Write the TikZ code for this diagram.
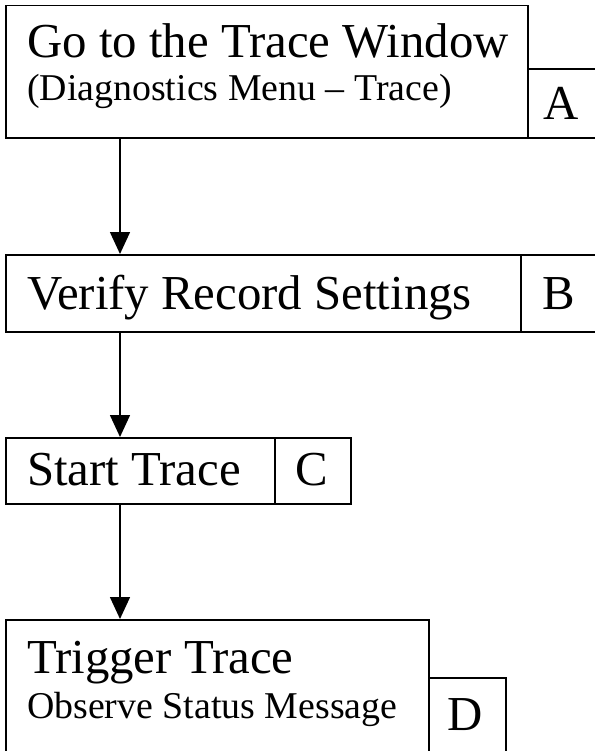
\documentclass[tikz,border=0pt]{standalone}
\usepackage{fontspec}
\setmainfont{Liberation Serif}
\usetikzlibrary{arrows.meta}

\begin{document}
\begin{tikzpicture}[x=1bp,y=-1bp]
\tikzstyle{every node}+=[inner sep=0pt]
\tikzstyle{box}=[draw,black,line width=1.5bp,rectangle,anchor=north west]
\tikzstyle{big}=[font=\fontsize{49}{54}\selectfont,anchor=base west]
\tikzstyle{small}=[font=\fontsize{38}{42}\selectfont,anchor=base west]
\tikzstyle{tag}=[font=\fontsize{49}{54}\selectfont,anchor=base]
\tikzstyle{flow}=[black,line width=1.5bp,-{Triangle[length=22bp,width=20bp]}]
\useasboundingbox (0,0) rectangle (595,751);
\node [box,minimum width=522bp,minimum height=132bp] (stepA) at (5,5) {};
\node [box,minimum width=80bp,minimum height=69bp] (tagA) at (527,68) {};
\node [big] (goText) at (27,58) {Go to the Trace Window};
\node [small] (menuText) at (27,100) {(Diagnostics Menu – Trace)};
\node [tag] (tagAText) at (561,119) {A};
\node [box,minimum width=515bp,minimum height=77bp] (stepB) at (5,254) {};
\node [box,minimum width=90bp,minimum height=77bp] (tagB) at (520,254) {};
\node [big] (verifyText) at (27,309) {Verify Record Settings};
\node [tag] (tagBText) at (559,309) {B};
\node [box,minimum width=269bp,minimum height=66bp] (stepC) at (5,437) {};
\node [box,minimum width=76bp,minimum height=66bp] (tagC) at (274,437) {};
\node [big] (startText) at (27,485) {Start Trace};
\node [tag] (tagCText) at (312,485) {C};
\node [box,minimum width=423bp,minimum height=150bp] (stepD) at (5,619) {};
\node [box,minimum width=77bp,minimum height=90bp] (tagD) at (428,677) {};
\node [big] (triggerText) at (27,673) {Trigger Trace};
\node [small] (observeText) at (27,718) {Observe Status Message};
\node [tag] (tagDText) at (465,730) {D};
\coordinate (col) at (120,0);
\draw [flow] (col |- stepA.south) -- (col |- stepB.north);
\draw [flow] (col |- stepB.south) -- (col |- stepC.north);
\draw [flow] (col |- stepC.south) -- (col |- stepD.north);
\end{tikzpicture}
\end{document}
